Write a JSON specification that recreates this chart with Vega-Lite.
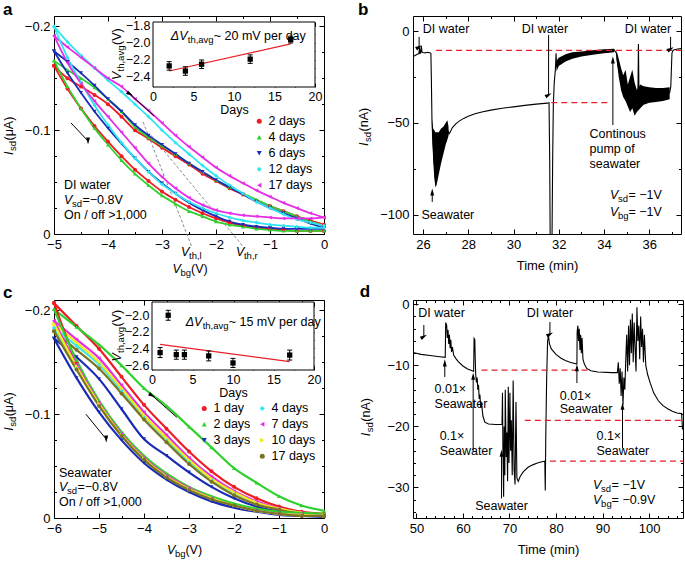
{
"$schema":"https://vega.github.io/schema/vega-lite/v6.json",
"padding":{"left":2,"top":0,"right":0,"bottom":0},
"background":"white",
"config":{
 "font":"Liberation Sans",
 "view":{"stroke":"black","strokeWidth":1},
 "axis":{"grid":false,"domain":false,"tickColor":"black","tickWidth":1,"labelColor":"black","labelFontSize":13,"labelFlush":false,"labelOverlap":false,"titleFontSize":13,"titleFontWeight":"normal","titleColor":"black"},
 "legend":{"labelFontSize":12.5,"labelColor":"black","symbolSize":25,"rowPadding":3,"padding":0,"labelOffset":3,"symbolStrokeWidth":0},
 "title":{"fontSize":17,"fontWeight":"bold","anchor":"start","color":"black","offset":-3},
 "text":{"color":"black","fontSize":12.5}
},
"datasets":{
 "aLoops":[
{"x":-5,"d":"u","2 days":-0.162,"4 days":-0.167,"6 days":-0.176,"12 days":-0.2,"17 days":-0.191},
{"x":-4.75,"d":"u","2 days":-0.15,"4 days":-0.158,"6 days":-0.166,"12 days":-0.185,"17 days":-0.18},
{"x":-4.5,"d":"u","2 days":-0.142,"4 days":-0.15,"6 days":-0.155,"12 days":-0.172,"17 days":-0.17},
{"x":-4.25,"d":"u","2 days":-0.134,"4 days":-0.141,"6 days":-0.143,"12 days":-0.16,"17 days":-0.16},
{"x":-4,"d":"u","2 days":-0.125,"4 days":-0.13,"6 days":-0.13,"12 days":-0.148,"17 days":-0.15},
{"x":-3.75,"d":"u","2 days":-0.113,"4 days":-0.118,"6 days":-0.118,"12 days":-0.137,"17 days":-0.142},
{"x":-3.5,"d":"u","2 days":-0.1,"4 days":-0.103,"6 days":-0.105,"12 days":-0.125,"17 days":-0.13},
{"x":-3.25,"d":"u","2 days":-0.092,"4 days":-0.093,"6 days":-0.095,"12 days":-0.113,"17 days":-0.119},
{"x":-3,"d":"u","2 days":-0.083,"4 days":-0.085,"6 days":-0.086,"12 days":-0.1,"17 days":-0.107},
{"x":-2.75,"d":"u","2 days":-0.075,"4 days":-0.077,"6 days":-0.077,"12 days":-0.088,"17 days":-0.095},
{"x":-2.5,"d":"u","2 days":-0.067,"4 days":-0.068,"6 days":-0.068,"12 days":-0.077,"17 days":-0.084},
{"x":-2.25,"d":"u","2 days":-0.058,"4 days":-0.06,"6 days":-0.06,"12 days":-0.066,"17 days":-0.074},
{"x":-2,"d":"u","2 days":-0.051,"4 days":-0.052,"6 days":-0.052,"12 days":-0.056,"17 days":-0.064},
{"x":-1.75,"d":"u","2 days":-0.044,"4 days":-0.045,"6 days":-0.045,"12 days":-0.047,"17 days":-0.056},
{"x":-1.5,"d":"u","2 days":-0.038,"4 days":-0.039,"6 days":-0.038,"12 days":-0.039,"17 days":-0.049},
{"x":-1.25,"d":"u","2 days":-0.032,"4 days":-0.033,"6 days":-0.031,"12 days":-0.031,"17 days":-0.042},
{"x":-1,"d":"u","2 days":-0.027,"4 days":-0.027,"6 days":-0.025,"12 days":-0.025,"17 days":-0.036},
{"x":-0.75,"d":"u","2 days":-0.022,"4 days":-0.022,"6 days":-0.02,"12 days":-0.019,"17 days":-0.03},
{"x":-0.5,"d":"u","2 days":-0.017,"4 days":-0.017,"6 days":-0.015,"12 days":-0.014,"17 days":-0.025},
{"x":-0.25,"d":"u","2 days":-0.013,"4 days":-0.012,"6 days":-0.01,"12 days":-0.011,"17 days":-0.02},
{"x":0,"d":"u","2 days":-0.009,"4 days":-0.008,"6 days":-0.006,"12 days":-0.008,"17 days":-0.016},
{"x":-5,"d":"l","2 days":-0.162,"4 days":-0.167,"6 days":-0.176,"12 days":-0.2,"17 days":-0.191},
{"x":-4.75,"d":"l","2 days":-0.14,"4 days":-0.142,"6 days":-0.155,"12 days":-0.17,"17 days":-0.165},
{"x":-4.5,"d":"l","2 days":-0.121,"4 days":-0.121,"6 days":-0.136,"12 days":-0.146,"17 days":-0.145},
{"x":-4.25,"d":"l","2 days":-0.104,"4 days":-0.102,"6 days":-0.118,"12 days":-0.124,"17 days":-0.128},
{"x":-4,"d":"l","2 days":-0.089,"4 days":-0.086,"6 days":-0.102,"12 days":-0.105,"17 days":-0.113},
{"x":-3.75,"d":"l","2 days":-0.075,"4 days":-0.071,"6 days":-0.087,"12 days":-0.088,"17 days":-0.098},
{"x":-3.5,"d":"l","2 days":-0.062,"4 days":-0.058,"6 days":-0.073,"12 days":-0.073,"17 days":-0.083},
{"x":-3.25,"d":"l","2 days":-0.051,"4 days":-0.047,"6 days":-0.06,"12 days":-0.06,"17 days":-0.068},
{"x":-3,"d":"l","2 days":-0.041,"4 days":-0.037,"6 days":-0.049,"12 days":-0.048,"17 days":-0.055},
{"x":-2.75,"d":"l","2 days":-0.033,"4 days":-0.029,"6 days":-0.039,"12 days":-0.039,"17 days":-0.044},
{"x":-2.5,"d":"l","2 days":-0.026,"4 days":-0.022,"6 days":-0.03,"12 days":-0.031,"17 days":-0.035},
{"x":-2.25,"d":"l","2 days":-0.02,"4 days":-0.017,"6 days":-0.023,"12 days":-0.025,"17 days":-0.028},
{"x":-2,"d":"l","2 days":-0.015,"4 days":-0.012,"6 days":-0.017,"12 days":-0.02,"17 days":-0.023},
{"x":-1.75,"d":"l","2 days":-0.011,"4 days":-0.009,"6 days":-0.012,"12 days":-0.016,"17 days":-0.02},
{"x":-1.5,"d":"l","2 days":-0.008,"4 days":-0.007,"6 days":-0.009,"12 days":-0.013,"17 days":-0.018},
{"x":-1.25,"d":"l","2 days":-0.006,"4 days":-0.005,"6 days":-0.007,"12 days":-0.011,"17 days":-0.017},
{"x":-1,"d":"l","2 days":-0.005,"4 days":-0.004,"6 days":-0.006,"12 days":-0.009,"17 days":-0.016},
{"x":-0.75,"d":"l","2 days":-0.004,"4 days":-0.003,"6 days":-0.005,"12 days":-0.008,"17 days":-0.015},
{"x":-0.5,"d":"l","2 days":-0.003,"4 days":-0.003,"6 days":-0.005,"12 days":-0.007,"17 days":-0.015},
{"x":-0.25,"d":"l","2 days":-0.003,"4 days":-0.003,"6 days":-0.005,"12 days":-0.006,"17 days":-0.015},
{"x":0,"d":"l","2 days":-0.003,"4 days":-0.003,"6 days":-0.005,"12 days":-0.006,"17 days":-0.016}
 ],
 "cLoops":[
{"x":-6,"d":"u","1 day":-0.207,"2 days":-0.201,"3 days":-0.173,"4 days":-0.183,"7 days":-0.19,"10 days":-0.187,"17 days":-0.18},
{"x":-5.5,"d":"u","1 day":-0.185,"2 days":-0.184,"3 days":-0.155,"4 days":-0.166,"7 days":-0.172,"10 days":-0.169,"17 days":-0.162},
{"x":-5,"d":"u","1 day":-0.163,"2 days":-0.167,"3 days":-0.134,"4 days":-0.148,"7 days":-0.154,"10 days":-0.15,"17 days":-0.144},
{"x":-4.5,"d":"u","1 day":-0.136,"2 days":-0.147,"3 days":-0.105,"4 days":-0.123,"7 days":-0.128,"10 days":-0.125,"17 days":-0.12},
{"x":-4,"d":"u","1 day":-0.109,"2 days":-0.125,"3 days":-0.076,"4 days":-0.098,"7 days":-0.102,"10 days":-0.099,"17 days":-0.095},
{"x":-3.5,"d":"u","1 day":-0.086,"2 days":-0.108,"3 days":-0.06,"4 days":-0.076,"7 days":-0.08,"10 days":-0.077,"17 days":-0.073},
{"x":-3,"d":"u","1 day":-0.064,"2 days":-0.088,"3 days":-0.044,"4 days":-0.054,"7 days":-0.058,"10 days":-0.056,"17 days":-0.052},
{"x":-2.5,"d":"u","1 day":-0.045,"2 days":-0.068,"3 days":-0.03,"4 days":-0.037,"7 days":-0.04,"10 days":-0.038,"17 days":-0.035},
{"x":-2,"d":"u","1 day":-0.03,"2 days":-0.048,"3 days":-0.019,"4 days":-0.024,"7 days":-0.026,"10 days":-0.025,"17 days":-0.022},
{"x":-1.5,"d":"u","1 day":-0.019,"2 days":-0.034,"3 days":-0.011,"4 days":-0.015,"7 days":-0.016,"10 days":-0.015,"17 days":-0.013},
{"x":-1,"d":"u","1 day":-0.011,"2 days":-0.021,"3 days":-0.006,"4 days":-0.009,"7 days":-0.009,"10 days":-0.009,"17 days":-0.008},
{"x":-0.5,"d":"u","1 day":-0.006,"2 days":-0.012,"3 days":-0.003,"4 days":-0.005,"7 days":-0.005,"10 days":-0.005,"17 days":-0.004},
{"x":0,"d":"u","1 day":-0.004,"2 days":-0.007,"3 days":-0.002,"4 days":-0.003,"7 days":-0.003,"10 days":-0.003,"17 days":-0.002},
{"x":-6,"d":"l","1 day":-0.207,"2 days":-0.201,"3 days":-0.173,"4 days":-0.183,"7 days":-0.19,"10 days":-0.187,"17 days":-0.18},
{"x":-5.5,"d":"l","1 day":-0.15,"2 days":-0.152,"3 days":-0.135,"4 days":-0.145,"7 days":-0.148,"10 days":-0.146,"17 days":-0.143},
{"x":-5,"d":"l","1 day":-0.11,"2 days":-0.113,"3 days":-0.102,"4 days":-0.109,"7 days":-0.111,"10 days":-0.11,"17 days":-0.108},
{"x":-4.5,"d":"l","1 day":-0.08,"2 days":-0.083,"3 days":-0.075,"4 days":-0.08,"7 days":-0.081,"10 days":-0.08,"17 days":-0.079},
{"x":-4,"d":"l","1 day":-0.057,"2 days":-0.06,"3 days":-0.053,"4 days":-0.057,"7 days":-0.058,"10 days":-0.057,"17 days":-0.056},
{"x":-3.5,"d":"l","1 day":-0.04,"2 days":-0.043,"3 days":-0.037,"4 days":-0.04,"7 days":-0.041,"10 days":-0.04,"17 days":-0.039},
{"x":-3,"d":"l","1 day":-0.028,"2 days":-0.03,"3 days":-0.025,"4 days":-0.028,"7 days":-0.029,"10 days":-0.028,"17 days":-0.027},
{"x":-2.5,"d":"l","1 day":-0.019,"2 days":-0.021,"3 days":-0.016,"4 days":-0.019,"7 days":-0.019,"10 days":-0.019,"17 days":-0.018},
{"x":-2,"d":"l","1 day":-0.012,"2 days":-0.014,"3 days":-0.01,"4 days":-0.012,"7 days":-0.012,"10 days":-0.012,"17 days":-0.012},
{"x":-1.5,"d":"l","1 day":-0.007,"2 days":-0.009,"3 days":-0.006,"4 days":-0.007,"7 days":-0.007,"10 days":-0.007,"17 days":-0.007},
{"x":-1,"d":"l","1 day":-0.004,"2 days":-0.006,"3 days":-0.003,"4 days":-0.004,"7 days":-0.004,"10 days":-0.004,"17 days":-0.004},
{"x":-0.5,"d":"l","1 day":-0.003,"2 days":-0.005,"3 days":-0.002,"4 days":-0.003,"7 days":-0.003,"10 days":-0.003,"17 days":-0.002},
{"x":0,"d":"l","1 day":-0.002,"2 days":-0.004,"3 days":-0.001,"4 days":-0.002,"7 days":-0.002,"10 days":-0.002,"17 days":-0.002}
 ],
 "aTan":[{"g":1,"x":-3.35,"y":-0.108},{"g":1,"x":-2.45,"y":0.012},{"g":2,"x":-3.2,"y":-0.095},{"g":2,"x":-1.5,"y":0.012}],
 "aIns":[{"day":2,"v":-2.27,"lo":-2.32,"hi":-2.22},{"day":4,"v":-2.33,"lo":-2.38,"hi":-2.28},{"day":6,"v":-2.25,"lo":-2.3,"hi":-2.2},{"day":12,"v":-2.19,"lo":-2.24,"hi":-2.14},{"day":17,"v":-1.96,"lo":-2.0,"hi":-1.92}],
 "aFit":[{"day":2,"v":-2.33},{"day":17,"v":-2.01}],
 "cIns":[{"day":1,"v":-2.45,"lo":-2.51,"hi":-2.39},{"day":2,"v":-2.0,"lo":-2.06,"hi":-1.94},{"day":3,"v":-2.475,"lo":-2.53,"hi":-2.42},{"day":4,"v":-2.475,"lo":-2.53,"hi":-2.42},{"day":7,"v":-2.49,"lo":-2.55,"hi":-2.43},{"day":10,"v":-2.575,"lo":-2.63,"hi":-2.52},{"day":17,"v":-2.48,"lo":-2.54,"hi":-2.42}],
 "cFit":[{"day":1,"v":-2.35},{"day":17,"v":-2.56}],
 "bBand":[
{"g":1,"t":26.4,"lo":-56,"hi":-48},{"g":1,"t":26.45,"lo":-70,"hi":-53},{"g":1,"t":26.5,"lo":-80,"hi":-54},{"g":1,"t":26.55,"lo":-85,"hi":-55},{"g":1,"t":26.6,"lo":-84,"hi":-55},{"g":1,"t":26.7,"lo":-78,"hi":-55},{"g":1,"t":26.8,"lo":-72,"hi":-53},{"g":1,"t":26.9,"lo":-67,"hi":-52},{"g":1,"t":27.0,"lo":-62,"hi":-50},{"g":1,"t":27.08,"lo":-59,"hi":-48.5},{"g":1,"t":27.13,"lo":-57,"hi":-52},
{"g":2,"t":31.9,"lo":-22,"hi":-16},{"g":2,"t":32.0,"lo":-19,"hi":-14.5},{"g":2,"t":32.3,"lo":-16.5,"hi":-12.5},{"g":2,"t":32.6,"lo":-15,"hi":-11.5},{"g":2,"t":33.0,"lo":-13.8,"hi":-11},{"g":2,"t":33.5,"lo":-12.8,"hi":-10.3},{"g":2,"t":34.0,"lo":-12,"hi":-9.8},{"g":2,"t":34.45,"lo":-11.5,"hi":-9.5},
{"g":3,"t":34.55,"lo":-15,"hi":-10.5},{"g":3,"t":34.65,"lo":-25,"hi":-15},{"g":3,"t":34.75,"lo":-32,"hi":-20},{"g":3,"t":34.85,"lo":-36,"hi":-24},{"g":3,"t":34.95,"lo":-38,"hi":-21},{"g":3,"t":35.05,"lo":-41,"hi":-29},{"g":3,"t":35.15,"lo":-44,"hi":-25},{"g":3,"t":35.25,"lo":-42,"hi":-21},{"g":3,"t":35.35,"lo":-46,"hi":-28},{"g":3,"t":35.45,"lo":-44,"hi":-32},{"g":3,"t":35.6,"lo":-42,"hi":-29},{"g":3,"t":35.75,"lo":-40,"hi":-30},{"g":3,"t":36.0,"lo":-39,"hi":-30.5},{"g":3,"t":36.3,"lo":-38.5,"hi":-31},{"g":3,"t":36.6,"lo":-38,"hi":-31},{"g":3,"t":36.9,"lo":-37,"hi":-30.5}
 ],
 "bLine":[
{"t":25.56,"v":-13.8},{"t":25.65,"v":-13.2},{"t":25.75,"v":-12.5},{"t":25.82,"v":-12.2},{"t":25.85,"v":-9},{"t":25.87,"v":-12},{"t":25.9,"v":-11.8},{"t":25.93,"v":-8.2},{"t":25.96,"v":-11.5},{"t":26.0,"v":-11.6},{"t":26.1,"v":-11.8},{"t":26.2,"v":-11.5},{"t":26.3,"v":-11.7},{"t":26.35,"v":-12},{"t":26.37,"v":-25},{"t":26.4,"v":-50},{"t":26.45,"v":-62},{"t":26.5,"v":-72},{"t":26.55,"v":-80},{"t":26.6,"v":-76},{"t":26.7,"v":-68},{"t":26.8,"v":-63},{"t":26.9,"v":-60},{"t":27.0,"v":-57},{"t":27.1,"v":-54},{"t":27.15,"v":-56},{"t":27.2,"v":-55},{"t":27.3,"v":-52.5},{"t":27.45,"v":-50.5},{"t":27.6,"v":-49},{"t":27.8,"v":-47.5},{"t":28.0,"v":-46.3},{"t":28.3,"v":-45},{"t":28.6,"v":-44},{"t":29.0,"v":-43},{"t":29.5,"v":-42},{"t":30.0,"v":-41.2},{"t":30.5,"v":-40.4},{"t":31.0,"v":-39.7},{"t":31.5,"v":-39.2},{"t":31.57,"v":-39},{"t":31.6,"v":-70},{"t":31.62,"v":-115},{"t":31.7,"v":-115},{"t":31.73,"v":-70},{"t":31.76,"v":-40},{"t":31.8,"v":-28},{"t":31.85,"v":-21},{"t":31.88,"v":-12},{"t":31.9,"v":-19},{"t":32.0,"v":-17},{"t":32.2,"v":-15},{"t":32.5,"v":-13.5},{"t":33.0,"v":-12.3},{"t":33.5,"v":-11.5},{"t":34.0,"v":-10.8},{"t":34.45,"v":-10.3},{"t":34.55,"v":-12},{"t":34.6,"v":-18},{"t":34.7,"v":-24},{"t":34.8,"v":-30},{"t":34.9,"v":-28},{"t":35.0,"v":-33},{"t":35.1,"v":-36},{"t":35.2,"v":-40},{"t":35.3,"v":-38},{"t":35.4,"v":-43},{"t":35.47,"v":-38},{"t":35.5,"v":-30},{"t":35.52,"v":-7},{"t":35.54,"v":-30},{"t":35.6,"v":-38},{"t":35.8,"v":-35},{"t":36.0,"v":-34.5},{"t":36.5,"v":-34},{"t":36.9,"v":-33.5},{"t":36.95,"v":-30},{"t":37.0,"v":-12},{"t":37.05,"v":-10.3},{"t":37.2,"v":-9.8},{"t":37.4,"v":-9.5}
 ],
 "dLine":[
{"t":49.27,"v":-7.9},{"t":51,"v":-8.2},{"t":53,"v":-8.4},{"t":55,"v":-8.6},{"t":56.2,"v":-8.7},{"t":56.3,"v":-3.0},{"t":56.5,"v":-3.4},{"t":56.65,"v":-5.5},{"t":56.8,"v":-4.2},{"t":56.95,"v":-6.5},{"t":57.1,"v":-5.0},{"t":57.25,"v":-7.2},{"t":57.4,"v":-5.8},{"t":57.55,"v":-7.8},{"t":57.75,"v":-7.0},{"t":58.0,"v":-8.3},{"t":58.5,"v":-8.9},{"t":59.0,"v":-9.4},{"t":60.0,"v":-10.1},{"t":61.0,"v":-10.6},{"t":62.0,"v":-10.9},{"t":62.3,"v":-11.0},{"t":62.4,"v":-5.6},{"t":62.55,"v":-5.8},{"t":62.65,"v":-9},{"t":62.75,"v":-11.5},{"t":62.9,"v":-12.8},{"t":63.05,"v":-12},{"t":63.2,"v":-14},{"t":63.35,"v":-13.2},{"t":63.5,"v":-15.5},{"t":63.65,"v":-14.8},{"t":63.8,"v":-16.8},{"t":64.0,"v":-16.2},{"t":64.3,"v":-18.3},{"t":64.7,"v":-19.3},{"t":65.5,"v":-19.6},{"t":67.0,"v":-19.7},{"t":68.4,"v":-19.7},{"t":68.5,"v":-14.5},{"t":68.6,"v":-24},{"t":68.75,"v":-31.5},{"t":68.85,"v":-20},{"t":69.0,"v":-28},{"t":69.1,"v":-14},{"t":69.3,"v":-25},{"t":69.45,"v":-21},{"t":69.6,"v":-29},{"t":69.75,"v":-13.5},{"t":69.9,"v":-26},{"t":70.1,"v":-14.5},{"t":70.25,"v":-24},{"t":70.4,"v":-19},{"t":70.6,"v":-28},{"t":70.8,"v":-12.5},{"t":71.0,"v":-27},{"t":71.2,"v":-29.5},{"t":71.4,"v":-16},{"t":71.6,"v":-28.5},{"t":71.9,"v":-29},{"t":72.3,"v":-28.2},{"t":73.0,"v":-27.4},{"t":74.0,"v":-26.7},{"t":75.0,"v":-26.3},{"t":76.0,"v":-26.0},{"t":77.0,"v":-25.8},{"t":77.6,"v":-25.7},{"t":77.7,"v":-30.5},{"t":77.8,"v":-22},{"t":78.0,"v":-12},{"t":78.2,"v":-6},{"t":78.4,"v":-5.2},{"t":78.6,"v":-6.5},{"t":79.0,"v":-7.3},{"t":80.0,"v":-8.2},{"t":81.0,"v":-8.8},{"t":82.0,"v":-9.2},{"t":83.0,"v":-9.5},{"t":84.0,"v":-9.7},{"t":84.5,"v":-9.8},{"t":84.55,"v":-4.5},{"t":84.7,"v":-3.5},{"t":84.85,"v":-6},{"t":85.0,"v":-4},{"t":85.15,"v":-7.5},{"t":85.3,"v":-5},{"t":85.45,"v":-8},{"t":85.6,"v":-5.5},{"t":85.8,"v":-9},{"t":86.1,"v":-9.8},{"t":86.6,"v":-10.5},{"t":87.5,"v":-10.9},{"t":89,"v":-11.1},{"t":92,"v":-11.2},{"t":93.2,"v":-11.2},{"t":93.4,"v":-9.5},{"t":93.6,"v":-13},{"t":93.8,"v":-10.5},{"t":94.0,"v":-15},{"t":94.2,"v":-11},{"t":94.4,"v":-16.5},{"t":94.6,"v":-12},{"t":94.8,"v":-14},{"t":95.0,"v":-9},{"t":95.2,"v":-5},{"t":95.4,"v":-11},{"t":95.6,"v":-3.5},{"t":95.8,"v":-10},{"t":96.0,"v":-2.5},{"t":96.2,"v":-8},{"t":96.4,"v":-1.5},{"t":96.6,"v":-9.5},{"t":96.8,"v":-3},{"t":97.0,"v":-7},{"t":97.2,"v":-11},{"t":97.4,"v":-0.5},{"t":97.6,"v":-6},{"t":97.8,"v":-3.5},{"t":98.0,"v":-9},{"t":98.2,"v":-2},{"t":98.4,"v":-7},{"t":98.6,"v":-4},{"t":98.8,"v":-9.5},{"t":99.0,"v":-5},{"t":99.3,"v":-10},{"t":99.7,"v":-11.5},{"t":100.3,"v":-13},{"t":101,"v":-14.5},{"t":102,"v":-15.8},{"t":103,"v":-16.6},{"t":104,"v":-17.1},{"t":105,"v":-17.5},{"t":106,"v":-17.8},{"t":107,"v":-17.9},{"t":107.2,"v":-20.5}
 ],
 "red":[{"p":"b","x":26.58,"x2":37.4,"y":-10.4},{"p":"b","x":31.67,"x2":34.32,"y":-38.9},{"p":"d","x":64,"x2":87.3,"y":-10.8},{"p":"d","x":73.3,"x2":107.3,"y":-19.0},{"p":"d","x":78.7,"x2":107.3,"y":-25.7}],
 "arr":[
{"p":"a","x":-3.148,"y":-0.1137,"x2":-3.593,"y2":-0.1349,"dir":"ul"},
{"p":"a","x":-4.685,"y":-0.107,"x2":-4.37,"y2":-0.0896,"dir":"dr"},
{"p":"c","x":-3.27,"y":-0.097,"x2":-3.82,"y2":-0.118,"dir":"ul"},
{"p":"c","x":-5.29,"y":-0.1,"x2":-4.84,"y2":-0.076,"dir":"dr"},
{"p":"b","x":25.83,"y":-3.1,"x2":25.83,"y2":-8.6,"dir":"d"},
{"p":"b","x":31.55,"y":-2,"x2":31.55,"y2":-34.7,"dir":"d"},
{"p":"b","x":36.94,"y":-3.1,"x2":36.94,"y2":-9.7,"dir":"d"},
{"p":"b","x":26.41,"y":-93,"x2":26.41,"y2":-87.6,"dir":"u"},
{"p":"b","x":34.39,"y":-51.1,"x2":34.39,"y2":-15.6,"dir":"u"},
{"p":"d","x":51.6,"y":-3.4,"x2":51.6,"y2":-5.3,"dir":"d"},
{"p":"d","x":56.1,"y":-11.9,"x2":56.1,"y2":-9.6,"dir":"u"},
{"p":"d","x":62.2,"y":-24.1,"x2":62.2,"y2":-11.8,"dir":"u"},
{"p":"d","x":68.3,"y":-31.8,"x2":68.3,"y2":-24.4,"dir":"u"},
{"p":"d","x":78.7,"y":-2.9,"x2":78.7,"y2":-4.9,"dir":"d"},
{"p":"d","x":84.5,"y":-12.9,"x2":84.5,"y2":-10.4,"dir":"u"},
{"p":"d","x":94.3,"y":-23.6,"x2":94.3,"y2":-16.7,"dir":"u"}
 ],
 "tl":[
{"p":"a","x":-4.815,"y":-0.047,"t":"DI water"},
{"p":"a","x":-4.815,"y":-0.0183,"t":"On / off >1,000"},
{"p":"c","x":-5.889,"y":-0.0437,"t":"Seawater"},
{"p":"c","x":-5.889,"y":-0.0155,"t":"On / off >1,000"},
{"p":"b","x":33.36,"y":-55.8,"t":"Continous"},
{"p":"b","x":33.36,"y":-64,"t":"pump of"},
{"p":"b","x":33.36,"y":-72.2,"t":"seawater"},
{"p":"d","x":53.9,"y":-13.9,"t":"0.01×"},
{"p":"d","x":53.9,"y":-16.4,"t":"Seawater"},
{"p":"d","x":55.0,"y":-21.6,"t":"0.1×"},
{"p":"d","x":55.0,"y":-24.1,"t":"Seawater"},
{"p":"d","x":80.8,"y":-15.0,"t":"0.01×"},
{"p":"d","x":80.8,"y":-17.2,"t":"Seawater"},
{"p":"d","x":88.7,"y":-21.6,"t":"0.1×"},
{"p":"d","x":88.7,"y":-24.1,"t":"Seawater"}
 ],
 "tc":[
{"p":"b","x":27.02,"y":1.25,"t":"DI water"},{"p":"b","x":31.39,"y":1.25,"t":"DI water"},{"p":"b","x":35.94,"y":1.25,"t":"DI water"},{"p":"b","x":27.1,"y":-100.2,"t":"Seawater"},
{"p":"d","x":55.4,"y":-1.5,"t":"DI water"},{"p":"d","x":78.7,"y":-1.5,"t":"DI water"},{"p":"d","x":68.3,"y":-33.1,"t":"Seawater"}
 ],
 "vh":[
{"p":"a","x":-2.806,"y":0.0337,"a":"V","b":"bg","c":"\u00a0(V)"},
{"p":"a","x":-4.815,"y":-0.0328,"a":"V","b":"sd","c":"=−0.8V"},
{"p":"a","x":-2.648,"y":0.0173,"a":"V","b":"th,l","c":""},
{"p":"a","x":-1.63,"y":0.0173,"a":"V","b":"th,r","c":""},
{"p":"c","x":-3.49,"y":0.031,"a":"V","b":"bg","c":"\u00a0(V)"},
{"p":"c","x":-5.889,"y":-0.03,"a":"V","b":"sd","c":"=−0.8V"},
{"p":"b","x":34.26,"y":-89.3,"a":"V","b":"sd","c":"= −1V"},
{"p":"b","x":34.26,"y":-98.5,"a":"V","b":"bg","c":"= −1V"},
{"p":"d","x":87.98,"y":-29.6,"a":"V","b":"sd","c":"= −1V"},
{"p":"d","x":87.98,"y":-32.0,"a":"V","b":"bg","c":"= −0.9V"}
 ],
 "ir":[
{"p":"a","x":-5.833,"y":-0.0761,"a":"I","b":"sd","c":"\u00a0(μA)"},
{"p":"c","x":-7,"y":-0.084,"a":"I","b":"sd","c":"\u00a0(μA)"},
{"p":"b","x":23.4,"y":-62.5,"a":"I","b":"sd","c":"\u00a0(nA)"},
{"p":"d","x":39.1,"y":-21.6,"a":"I","b":"sd","c":"\u00a0(nA)"}
 ],
 "dv":[
{"p":"a","x":2.19,"y":-1.918,"a":"ΔV","b":"th,avg","c":"~ 20 mV per day"},
{"p":"c","x":4.16,"y":-2.084,"a":"ΔV","b":"th,avg","c":"~ 15 mV per day"}
 ],
 "vr":[
{"p":"a","x":-4.44,"y":-2.435,"a":"V","b":"th,avg","c":"\u00a0(V)"},
{"p":"c","x":-4.32,"y":-2.557,"a":"V","b":"th,avg","c":"\u00a0(V)"}
 ]
},
"spacing":4,
"resolve":{"scale":{"color":"independent","shape":"independent","angle":"independent"}},
"vconcat":[
{"spacing":28,"resolve":{"scale":{"color":"independent","shape":"independent","angle":"independent"}},"hconcat":[
{
 "width":270,"height":218,"title":{"text":"a"},
 "resolve":{"scale":{"x":"independent","y":"independent"}},
 "layer":[
 {
  "resolve":{"axis":{"x":"independent","y":"independent"},"legend":{"color":"independent","shape":"independent"}},
  "layer":[
   {"data":{"name":"aTan"},"mark":{"type":"line","color":"#8c8c8c","strokeWidth":1,"strokeDash":[3,2]},
    "encoding":{"x":{"field":"x","type":"quantitative","scale":{"domain":[-5,0],"nice":false,"zero":false},"axis":null},"y":{"field":"y","type":"quantitative","scale":{"domain":[-0.21,0],"reverse":true,"nice":false,"zero":false},"axis":null},"detail":{"field":"g"}}},
   {"data":{"name":"aLoops"},"transform":[{"fold":["2 days","4 days","6 days","12 days","17 days"],"as":["s","v"]}],
    "mark":{"type":"line","strokeWidth":1.8,"interpolate":"monotone"},
    "encoding":{
     "x":{"field":"x","type":"quantitative","axis":{"orient":"bottom","values":[-5,-4,-3,-2,-1,0],"format":"d","tickSize":-5,"labelPadding":9,"title":null}},
     "y":{"field":"v","type":"quantitative","axis":{"orient":"left","values":[-0.2,-0.1,0],"format":".1~f","tickSize":-5,"labelPadding":9,"title":null}},
     "color":{"field":"s","type":"nominal","scale":{"domain":["2 days","4 days","6 days","12 days","17 days"],"range":["#ee1c24","#2fd12f","#1a2bb5","#2fe6f2","#e62ee6"]},"legend":null},
     "detail":{"field":"d"}}},
   {"data":{"name":"aLoops"},"transform":[{"fold":["2 days","4 days","6 days","12 days","17 days"],"as":["s","v"]}],
    "mark":{"type":"point","filled":true,"size":16,"opacity":1},
    "encoding":{
     "x":{"field":"x","type":"quantitative","axis":{"orient":"top","values":[-5,-4,-3,-2,-1,0],"tickSize":-5,"labels":false,"title":null}},
     "y":{"field":"v","type":"quantitative","axis":{"orient":"right","values":[-0.2,-0.1,0],"tickSize":-5,"labels":false,"title":null}},
     "color":{"field":"s","type":"nominal","legend":{"orient":"none","legendX":199,"legendY":99,"title":null}},
     "shape":{"field":"s","type":"nominal","scale":{"domain":["2 days","4 days","6 days","12 days","17 days"],"range":["circle","triangle-up","triangle-down","diamond","triangle-left"]},"legend":{"orient":"none","legendX":199,"legendY":99,"title":null}}}},
   {"data":{"name":"arr"},"transform":[{"filter":"datum.p==='a'"}],"mark":{"type":"rule","color":"black","strokeWidth":1},
    "encoding":{"x":{"field":"x","type":"quantitative","axis":{"orient":"bottom","values":[-4.5,-3.5,-2.5,-1.5,-0.5],"tickSize":-2.5,"labels":false,"title":null}},"y":{"field":"y","type":"quantitative","axis":{"orient":"left","values":[-0.175,-0.15,-0.125,-0.075,-0.05,-0.025],"tickSize":-2.5,"labels":false,"title":null}},"x2":{"field":"x2"},"y2":{"field":"y2"}}},
   {"data":{"name":"arr"},"transform":[{"filter":"datum.p==='a'"}],"mark":{"type":"point","shape":"M0,-1L0.55,1L-0.55,1Z","filled":true,"color":"black","size":50,"opacity":1},
    "encoding":{"x":{"field":"x2","type":"quantitative","axis":{"orient":"top","values":[-4.5,-3.5,-2.5,-1.5,-0.5],"tickSize":-2.5,"labels":false,"title":null}},"y":{"field":"y2","type":"quantitative","axis":{"orient":"right","values":[-0.175,-0.15,-0.125,-0.075,-0.05,-0.025],"tickSize":-2.5,"labels":false,"title":null}},"angle":{"field":"dir","type":"nominal","scale":{"domain":["u","d","ul","dr"],"range":[0,180,312,138]},"legend":null}}},
   {"data":{"name":"tl"},"transform":[{"filter":"datum.p==='a'"}],"mark":{"type":"text","align":"left","baseline":"middle","fontSize":12.5},
    "encoding":{"x":{"field":"x","type":"quantitative","axis":null},"y":{"field":"y","type":"quantitative","axis":null},"text":{"field":"t"}}},
   {"data":{"name":"vh"},"transform":[{"filter":"datum.p==='a'"}],"mark":{"type":"text","align":"left","baseline":"middle","fontSize":12.5,"fontStyle":"italic"},
    "encoding":{"x":{"field":"x","type":"quantitative","axis":null},"y":{"field":"y","type":"quantitative","axis":null},"text":{"field":"a"}}},
   {"data":{"name":"vh"},"transform":[{"filter":"datum.p==='a'"}],"mark":{"type":"text","align":"left","baseline":"middle","fontSize":9.5,"dx":8,"dy":4},
    "encoding":{"x":{"field":"x","type":"quantitative","axis":null},"y":{"field":"y","type":"quantitative","axis":null},"text":{"field":"b"}}},
   {"data":{"name":"vh"},"transform":[{"filter":"datum.p==='a'"}],"mark":{"type":"text","align":"left","baseline":"middle","fontSize":12.5,"dx":18.5},
    "encoding":{"x":{"field":"x","type":"quantitative","axis":null},"y":{"field":"y","type":"quantitative","axis":null},"text":{"field":"c"}}},
   {"data":{"name":"ir"},"transform":[{"filter":"datum.p==='a'"}],"mark":{"type":"text","align":"left","baseline":"middle","fontSize":12.5,"fontStyle":"italic","angle":270},
    "encoding":{"x":{"field":"x","type":"quantitative","axis":null},"y":{"field":"y","type":"quantitative","axis":null},"text":{"field":"a"}}},
   {"data":{"name":"ir"},"transform":[{"filter":"datum.p==='a'"}],"mark":{"type":"text","align":"left","baseline":"middle","fontSize":9.5,"dx":4,"dy":4,"angle":270},
    "encoding":{"x":{"field":"x","type":"quantitative","axis":null},"y":{"field":"y","type":"quantitative","axis":null},"text":{"field":"b"}}},
   {"data":{"name":"ir"},"transform":[{"filter":"datum.p==='a'"}],"mark":{"type":"text","align":"left","baseline":"middle","fontSize":12.5,"dx":14.5,"angle":270},
    "encoding":{"x":{"field":"x","type":"quantitative","axis":null},"y":{"field":"y","type":"quantitative","axis":null},"text":{"field":"c"}}}
  ]
 },
 {
  "resolve":{"axis":{"x":"independent","y":"independent"}},
  "layer":[
   {"data":{"values":[{}]},"mark":{"type":"rect","fill":"white","stroke":"black","strokeWidth":1},
    "encoding":{"x":{"datum":0,"type":"quantitative","scale":{"domain":[0,20],"range":[99,261],"nice":false,"zero":false},"axis":null},"x2":{"datum":20},"y":{"datum":-2.518,"type":"quantitative","scale":{"domain":[-2.518,-1.753],"range":[71,6],"nice":false,"zero":false},"axis":null},"y2":{"datum":-1.753}}},
   {"data":{"name":"aFit"},"mark":{"type":"line","color":"#e8202a","strokeWidth":1.2},
    "encoding":{"x":{"field":"day","type":"quantitative","axis":null},"y":{"field":"v","type":"quantitative","axis":null}}},
   {"data":{"name":"aIns"},"mark":{"type":"rule","color":"black","strokeWidth":1},
    "encoding":{"x":{"field":"day","type":"quantitative","axis":{"orient":"bottom","offset":-147,"values":[0,5,10,15,20],"tickSize":-4,"labelPadding":7,"labelFontSize":12.5,"title":"Days","titlePadding":1,"titleFontSize":12.5}},
     "y":{"field":"lo","type":"quantitative","axis":{"orient":"left","offset":-99,"values":[-1.8,-2,-2.2,-2.4],"format":".1f","tickSize":-4,"labelPadding":7,"labelFontSize":12.5,"title":null}},"y2":{"field":"hi"}}},
   {"data":{"name":"aIns"},"mark":{"type":"point","shape":"M-1,0H1","filled":false,"color":"black","strokeWidth":1,"size":25,"opacity":1},
    "encoding":{"x":{"field":"day","type":"quantitative","axis":{"orient":"top","offset":-6,"values":[0,5,10,15,20],"tickSize":-4,"labels":false,"title":null}},
     "y":{"field":"lo","type":"quantitative","axis":{"orient":"right","offset":-9,"values":[-1.8,-2,-2.2,-2.4],"tickSize":-4,"labels":false,"title":null}}}},
   {"data":{"name":"aIns"},"mark":{"type":"point","shape":"M-1,0H1","filled":false,"color":"black","strokeWidth":1,"size":25,"opacity":1},
    "encoding":{"x":{"field":"day","type":"quantitative","axis":{"orient":"bottom","offset":-147,"values":[2.5,7.5,12.5,17.5],"tickSize":-2,"labels":false,"title":null}},
     "y":{"field":"hi","type":"quantitative","axis":{"orient":"left","offset":-99,"values":[-1.9,-2.1,-2.3,-2.5],"tickSize":-2,"labels":false,"title":null}}}},
   {"data":{"name":"aIns"},"mark":{"type":"square","size":28,"color":"black","opacity":1},
    "encoding":{"x":{"field":"day","type":"quantitative","axis":{"orient":"top","offset":-6,"values":[2.5,7.5,12.5,17.5],"tickSize":-2,"labels":false,"title":null}},
     "y":{"field":"v","type":"quantitative","axis":{"orient":"right","offset":-9,"values":[-1.9,-2.1,-2.3,-2.5],"tickSize":-2,"labels":false,"title":null}}}},
   {"data":{"name":"dv"},"transform":[{"filter":"datum.p==='a'"}],"mark":{"type":"text","align":"left","baseline":"middle","fontSize":12.5,"fontStyle":"italic"},
    "encoding":{"x":{"field":"x","type":"quantitative","axis":null},"y":{"field":"y","type":"quantitative","axis":null},"text":{"field":"a"}}},
   {"data":{"name":"dv"},"transform":[{"filter":"datum.p==='a'"}],"mark":{"type":"text","align":"left","baseline":"middle","fontSize":9.5,"dx":17,"dy":4},
    "encoding":{"x":{"field":"x","type":"quantitative","axis":null},"y":{"field":"y","type":"quantitative","axis":null},"text":{"field":"b"}}},
   {"data":{"name":"dv"},"transform":[{"filter":"datum.p==='a'"}],"mark":{"type":"text","align":"left","baseline":"middle","fontSize":12.5,"dx":43},
    "encoding":{"x":{"field":"x","type":"quantitative","axis":null},"y":{"field":"y","type":"quantitative","axis":null},"text":{"field":"c"}}},
   {"data":{"name":"vr"},"transform":[{"filter":"datum.p==='a'"}],"mark":{"type":"text","align":"left","baseline":"middle","fontSize":12.5,"fontStyle":"italic","angle":270},
    "encoding":{"x":{"field":"x","type":"quantitative","axis":null},"y":{"field":"y","type":"quantitative","axis":null},"text":{"field":"a"}}},
   {"data":{"name":"vr"},"transform":[{"filter":"datum.p==='a'"}],"mark":{"type":"text","align":"left","baseline":"middle","fontSize":9.5,"dx":8.5,"dy":4,"angle":270},
    "encoding":{"x":{"field":"x","type":"quantitative","axis":null},"y":{"field":"y","type":"quantitative","axis":null},"text":{"field":"b"}}},
   {"data":{"name":"vr"},"transform":[{"filter":"datum.p==='a'"}],"mark":{"type":"text","align":"left","baseline":"middle","fontSize":12.5,"dx":35,"angle":270},
    "encoding":{"x":{"field":"x","type":"quantitative","axis":null},"y":{"field":"y","type":"quantitative","axis":null},"text":{"field":"c"}}}
  ]
 }
 ]
},
{
 "width":268,"height":218,"title":{"text":"b"},
 "resolve":{"axis":{"x":"independent","y":"independent"}},
 "layer":[
  {"data":{"name":"bBand"},"mark":{"type":"area","color":"black","clip":true,"opacity":1},
   "encoding":{"x":{"field":"t","type":"quantitative","scale":{"domain":[25.56,37.4],"nice":false,"zero":false},"axis":{"orient":"bottom","values":[26,28,30,32,34,36],"format":"d","tickSize":-5,"labelPadding":9,"title":"Time (min)","titlePadding":8}},
    "y":{"field":"lo","type":"quantitative","scale":{"domain":[-110.5,8.3],"nice":false,"zero":false},"axis":{"orient":"left","values":[0,-50,-100],"format":"d","tickSize":-5,"labelPadding":9,"title":null}},
    "y2":{"field":"hi"},"detail":{"field":"g"}}},
  {"data":{"name":"bLine"},"mark":{"type":"line","color":"black","strokeWidth":1.1,"clip":true},
   "encoding":{"x":{"field":"t","type":"quantitative","axis":{"orient":"top","values":[26,28,30,32,34,36],"tickSize":-5,"labels":false,"title":null}},
    "y":{"field":"v","type":"quantitative","axis":{"orient":"right","values":[0,-50,-100],"tickSize":-5,"labels":false,"title":null}}}},
  {"data":{"name":"red"},"transform":[{"filter":"datum.p==='b'"}],"mark":{"type":"rule","color":"#e8202a","strokeWidth":1.3,"strokeDash":[6,4]},
   "encoding":{"x":{"field":"x","type":"quantitative","axis":null},"x2":{"field":"x2"},"y":{"field":"y","type":"quantitative","axis":null}}},
  {"data":{"name":"arr"},"transform":[{"filter":"datum.p==='b'"}],"mark":{"type":"rule","color":"black","strokeWidth":1},
   "encoding":{"x":{"field":"x","type":"quantitative","axis":{"orient":"bottom","values":[27,29,31,33,35,37],"tickSize":-2.5,"labels":false,"title":null}},"y":{"field":"y","type":"quantitative","axis":{"orient":"left","values":[-25,-75],"tickSize":-2.5,"labels":false,"title":null}},"x2":{"field":"x2"},"y2":{"field":"y2"}}},
  {"data":{"name":"arr"},"transform":[{"filter":"datum.p==='b'"}],"mark":{"type":"point","shape":"M0,-1L0.55,1L-0.55,1Z","filled":true,"color":"black","size":50,"opacity":1},
   "encoding":{"x":{"field":"x2","type":"quantitative","axis":{"orient":"top","values":[27,29,31,33,35,37],"tickSize":-2.5,"labels":false,"title":null}},"y":{"field":"y2","type":"quantitative","axis":{"orient":"right","values":[-25,-75],"tickSize":-2.5,"labels":false,"title":null}},"angle":{"field":"dir","type":"nominal","scale":{"domain":["u","d","ul","dr"],"range":[0,180,312,138]},"legend":null}}},
  {"data":{"name":"tl"},"transform":[{"filter":"datum.p==='b'"}],"mark":{"type":"text","align":"left","baseline":"middle","fontSize":12.5},
   "encoding":{"x":{"field":"x","type":"quantitative","axis":null},"y":{"field":"y","type":"quantitative","axis":null},"text":{"field":"t"}}},
  {"data":{"name":"tc"},"transform":[{"filter":"datum.p==='b'"}],"mark":{"type":"text","align":"center","baseline":"middle","fontSize":12.5},
   "encoding":{"x":{"field":"x","type":"quantitative","axis":null},"y":{"field":"y","type":"quantitative","axis":null},"text":{"field":"t"}}},
  {"data":{"name":"vh"},"transform":[{"filter":"datum.p==='b'"}],"mark":{"type":"text","align":"left","baseline":"middle","fontSize":12.5,"fontStyle":"italic"},
   "encoding":{"x":{"field":"x","type":"quantitative","axis":null},"y":{"field":"y","type":"quantitative","axis":null},"text":{"field":"a"}}},
  {"data":{"name":"vh"},"transform":[{"filter":"datum.p==='b'"}],"mark":{"type":"text","align":"left","baseline":"middle","fontSize":9.5,"dx":8,"dy":4},
   "encoding":{"x":{"field":"x","type":"quantitative","axis":null},"y":{"field":"y","type":"quantitative","axis":null},"text":{"field":"b"}}},
  {"data":{"name":"vh"},"transform":[{"filter":"datum.p==='b'"}],"mark":{"type":"text","align":"left","baseline":"middle","fontSize":12.5,"dx":18.5},
   "encoding":{"x":{"field":"x","type":"quantitative","axis":null},"y":{"field":"y","type":"quantitative","axis":null},"text":{"field":"c"}}},
  {"data":{"name":"ir"},"transform":[{"filter":"datum.p==='b'"}],"mark":{"type":"text","align":"left","baseline":"middle","fontSize":12.5,"fontStyle":"italic","angle":270},
   "encoding":{"x":{"field":"x","type":"quantitative","axis":null},"y":{"field":"y","type":"quantitative","axis":null},"text":{"field":"a"}}},
  {"data":{"name":"ir"},"transform":[{"filter":"datum.p==='b'"}],"mark":{"type":"text","align":"left","baseline":"middle","fontSize":9.5,"dx":4,"dy":4,"angle":270},
   "encoding":{"x":{"field":"x","type":"quantitative","axis":null},"y":{"field":"y","type":"quantitative","axis":null},"text":{"field":"b"}}},
  {"data":{"name":"ir"},"transform":[{"filter":"datum.p==='b'"}],"mark":{"type":"text","align":"left","baseline":"middle","fontSize":12.5,"dx":14.5,"angle":270},
   "encoding":{"x":{"field":"x","type":"quantitative","axis":null},"y":{"field":"y","type":"quantitative","axis":null},"text":{"field":"c"}}}
 ]
}
]},
{"spacing":30,"resolve":{"scale":{"color":"independent","shape":"independent","angle":"independent"}},"hconcat":[
{
 "width":270,"height":218,"title":{"text":"c"},
 "resolve":{"scale":{"x":"independent","y":"independent"}},
 "layer":[
 {
  "resolve":{"axis":{"x":"independent","y":"independent"},"legend":{"color":"independent","shape":"independent"}},
  "layer":[
   {"data":{"name":"cLoops"},"transform":[{"fold":["1 day","2 days","3 days","4 days","7 days","10 days","17 days"],"as":["s","v"]}],
    "mark":{"type":"line","strokeWidth":2.2,"interpolate":"monotone"},
    "encoding":{
     "x":{"field":"x","type":"quantitative","scale":{"domain":[-6,0],"nice":false,"zero":false},"axis":{"orient":"bottom","values":[-6,-5,-4,-3,-2,-1,0],"format":"d","tickSize":-5,"labelPadding":9,"title":null}},
     "y":{"field":"v","type":"quantitative","scale":{"domain":[-0.21,0],"reverse":true,"nice":false,"zero":false},"axis":{"orient":"left","values":[-0.2,-0.1,0],"format":".1~f","tickSize":-5,"labelPadding":9,"title":null}},
     "color":{"field":"s","type":"nominal","scale":{"domain":["1 day","2 days","3 days"," ","4 days","7 days","10 days","17 days"],"range":["#ee1c24","#2fd12f","#1a2bb5","transparent","#2fe6f2","#e62ee6","#f2ea1a","#7a7424"]},"legend":null},
     "detail":{"field":"d"}}},
   {"data":{"name":"cLoops"},"transform":[{"fold":["1 day","2 days","3 days","4 days","7 days","10 days","17 days"],"as":["s","v"]}],
    "mark":{"type":"point","filled":true,"size":16,"opacity":1},
    "encoding":{
     "x":{"field":"x","type":"quantitative","axis":{"orient":"top","values":[-6,-5,-4,-3,-2,-1,0],"tickSize":-5,"labels":false,"title":null}},
     "y":{"field":"v","type":"quantitative","axis":{"orient":"right","values":[-0.2,-0.1,0],"tickSize":-5,"labels":false,"title":null}},
     "color":{"field":"s","type":"nominal","legend":{"orient":"none","legendX":144,"legendY":102,"title":null,"columns":2,"columnPadding":5}},
     "shape":{"field":"s","type":"nominal","scale":{"domain":["1 day","2 days","3 days"," ","4 days","7 days","10 days","17 days"],"range":["circle","triangle-up","triangle-down","circle","diamond","triangle-left","triangle-right","circle"]},"legend":{"orient":"none","legendX":144,"legendY":102,"title":null,"columns":2,"columnPadding":5}}}},
   {"data":{"name":"arr"},"transform":[{"filter":"datum.p==='c'"}],"mark":{"type":"rule","color":"black","strokeWidth":1},
    "encoding":{"x":{"field":"x","type":"quantitative","axis":{"orient":"bottom","values":[-5.5,-4.5,-3.5,-2.5,-1.5,-0.5],"tickSize":-2.5,"labels":false,"title":null}},"y":{"field":"y","type":"quantitative","axis":{"orient":"left","values":[-0.175,-0.15,-0.125,-0.075,-0.05,-0.025],"tickSize":-2.5,"labels":false,"title":null}},"x2":{"field":"x2"},"y2":{"field":"y2"}}},
   {"data":{"name":"arr"},"transform":[{"filter":"datum.p==='c'"}],"mark":{"type":"point","shape":"M0,-1L0.55,1L-0.55,1Z","filled":true,"color":"black","size":50,"opacity":1},
    "encoding":{"x":{"field":"x2","type":"quantitative","axis":{"orient":"top","values":[-5.5,-4.5,-3.5,-2.5,-1.5,-0.5],"tickSize":-2.5,"labels":false,"title":null}},"y":{"field":"y2","type":"quantitative","axis":{"orient":"right","values":[-0.175,-0.15,-0.125,-0.075,-0.05,-0.025],"tickSize":-2.5,"labels":false,"title":null}},"angle":{"field":"dir","type":"nominal","scale":{"domain":["u","d","ul","dr"],"range":[0,180,311,140]},"legend":null}}},
   {"data":{"name":"tl"},"transform":[{"filter":"datum.p==='c'"}],"mark":{"type":"text","align":"left","baseline":"middle","fontSize":12.5},
    "encoding":{"x":{"field":"x","type":"quantitative","axis":null},"y":{"field":"y","type":"quantitative","axis":null},"text":{"field":"t"}}},
   {"data":{"name":"vh"},"transform":[{"filter":"datum.p==='c'"}],"mark":{"type":"text","align":"left","baseline":"middle","fontSize":12.5,"fontStyle":"italic"},
    "encoding":{"x":{"field":"x","type":"quantitative","axis":null},"y":{"field":"y","type":"quantitative","axis":null},"text":{"field":"a"}}},
   {"data":{"name":"vh"},"transform":[{"filter":"datum.p==='c'"}],"mark":{"type":"text","align":"left","baseline":"middle","fontSize":9.5,"dx":8,"dy":4},
    "encoding":{"x":{"field":"x","type":"quantitative","axis":null},"y":{"field":"y","type":"quantitative","axis":null},"text":{"field":"b"}}},
   {"data":{"name":"vh"},"transform":[{"filter":"datum.p==='c'"}],"mark":{"type":"text","align":"left","baseline":"middle","fontSize":12.5,"dx":18.5},
    "encoding":{"x":{"field":"x","type":"quantitative","axis":null},"y":{"field":"y","type":"quantitative","axis":null},"text":{"field":"c"}}},
   {"data":{"name":"ir"},"transform":[{"filter":"datum.p==='c'"}],"mark":{"type":"text","align":"left","baseline":"middle","fontSize":12.5,"fontStyle":"italic","angle":270},
    "encoding":{"x":{"field":"x","type":"quantitative","axis":null},"y":{"field":"y","type":"quantitative","axis":null},"text":{"field":"a"}}},
   {"data":{"name":"ir"},"transform":[{"filter":"datum.p==='c'"}],"mark":{"type":"text","align":"left","baseline":"middle","fontSize":9.5,"dx":4,"dy":4,"angle":270},
    "encoding":{"x":{"field":"x","type":"quantitative","axis":null},"y":{"field":"y","type":"quantitative","axis":null},"text":{"field":"b"}}},
   {"data":{"name":"ir"},"transform":[{"filter":"datum.p==='c'"}],"mark":{"type":"text","align":"left","baseline":"middle","fontSize":12.5,"dx":14.5,"angle":270},
    "encoding":{"x":{"field":"x","type":"quantitative","axis":null},"y":{"field":"y","type":"quantitative","axis":null},"text":{"field":"c"}}}
  ]
 },
 {
  "resolve":{"axis":{"x":"independent","y":"independent"}},
  "layer":[
   {"data":{"values":[{}]},"mark":{"type":"rect","fill":"white","stroke":"black","strokeWidth":1},
    "encoding":{"x":{"datum":0,"type":"quantitative","scale":{"domain":[0,20],"range":[98,260],"nice":false,"zero":false},"axis":null},"x2":{"datum":20},"y":{"datum":-2.66,"type":"quantitative","scale":{"domain":[-2.66,-1.84],"range":[70,2],"nice":false,"zero":false},"axis":null},"y2":{"datum":-1.84}}},
   {"data":{"name":"cFit"},"mark":{"type":"line","color":"#e8202a","strokeWidth":1.2},
    "encoding":{"x":{"field":"day","type":"quantitative","axis":null},"y":{"field":"v","type":"quantitative","axis":null}}},
   {"data":{"name":"cIns"},"mark":{"type":"rule","color":"black","strokeWidth":1},
    "encoding":{"x":{"field":"day","type":"quantitative","axis":{"orient":"bottom","offset":-148,"values":[0,5,10,15,20],"tickSize":-4,"labelPadding":7,"labelFontSize":12.5,"title":"Days","titlePadding":1,"titleFontSize":12.5}},
     "y":{"field":"lo","type":"quantitative","axis":{"orient":"left","offset":-98,"values":[-2,-2.2,-2.4,-2.6],"format":".1f","tickSize":-4,"labelPadding":7,"labelFontSize":12.5,"title":null}},"y2":{"field":"hi"}}},
   {"data":{"name":"cIns"},"mark":{"type":"point","shape":"M-1,0H1","filled":false,"color":"black","strokeWidth":1,"size":25,"opacity":1},
    "encoding":{"x":{"field":"day","type":"quantitative","axis":{"orient":"top","offset":-2,"values":[0,5,10,15,20],"tickSize":-4,"labels":false,"title":null}},
     "y":{"field":"lo","type":"quantitative","axis":{"orient":"right","offset":-10,"values":[-2,-2.2,-2.4,-2.6],"tickSize":-4,"labels":false,"title":null}}}},
   {"data":{"name":"cIns"},"mark":{"type":"point","shape":"M-1,0H1","filled":false,"color":"black","strokeWidth":1,"size":25,"opacity":1},
    "encoding":{"x":{"field":"day","type":"quantitative","axis":{"orient":"bottom","offset":-148,"values":[2.5,7.5,12.5,17.5],"tickSize":-2,"labels":false,"title":null}},
     "y":{"field":"hi","type":"quantitative","axis":{"orient":"left","offset":-98,"values":[-1.9,-2.1,-2.3,-2.5],"tickSize":-2,"labels":false,"title":null}}}},
   {"data":{"name":"cIns"},"mark":{"type":"square","size":28,"color":"black","opacity":1},
    "encoding":{"x":{"field":"day","type":"quantitative","axis":{"orient":"top","offset":-2,"values":[2.5,7.5,12.5,17.5],"tickSize":-2,"labels":false,"title":null}},
     "y":{"field":"v","type":"quantitative","axis":{"orient":"right","offset":-10,"values":[-1.9,-2.1,-2.3,-2.5],"tickSize":-2,"labels":false,"title":null}}}},
   {"data":{"name":"dv"},"transform":[{"filter":"datum.p==='c'"}],"mark":{"type":"text","align":"left","baseline":"middle","fontSize":12.5,"fontStyle":"italic"},
    "encoding":{"x":{"field":"x","type":"quantitative","axis":null},"y":{"field":"y","type":"quantitative","axis":null},"text":{"field":"a"}}},
   {"data":{"name":"dv"},"transform":[{"filter":"datum.p==='c'"}],"mark":{"type":"text","align":"left","baseline":"middle","fontSize":9.5,"dx":17,"dy":4},
    "encoding":{"x":{"field":"x","type":"quantitative","axis":null},"y":{"field":"y","type":"quantitative","axis":null},"text":{"field":"b"}}},
   {"data":{"name":"dv"},"transform":[{"filter":"datum.p==='c'"}],"mark":{"type":"text","align":"left","baseline":"middle","fontSize":12.5,"dx":43},
    "encoding":{"x":{"field":"x","type":"quantitative","axis":null},"y":{"field":"y","type":"quantitative","axis":null},"text":{"field":"c"}}},
   {"data":{"name":"vr"},"transform":[{"filter":"datum.p==='c'"}],"mark":{"type":"text","align":"left","baseline":"middle","fontSize":12.5,"fontStyle":"italic","angle":270},
    "encoding":{"x":{"field":"x","type":"quantitative","axis":null},"y":{"field":"y","type":"quantitative","axis":null},"text":{"field":"a"}}},
   {"data":{"name":"vr"},"transform":[{"filter":"datum.p==='c'"}],"mark":{"type":"text","align":"left","baseline":"middle","fontSize":9.5,"dx":8.5,"dy":4,"angle":270},
    "encoding":{"x":{"field":"x","type":"quantitative","axis":null},"y":{"field":"y","type":"quantitative","axis":null},"text":{"field":"b"}}},
   {"data":{"name":"vr"},"transform":[{"filter":"datum.p==='c'"}],"mark":{"type":"text","align":"left","baseline":"middle","fontSize":12.5,"dx":35,"angle":270},
    "encoding":{"x":{"field":"x","type":"quantitative","axis":null},"y":{"field":"y","type":"quantitative","axis":null},"text":{"field":"c"}}}
  ]
 }
 ]
},
{
 "width":270,"height":218,"title":{"text":"d"},
 "resolve":{"axis":{"x":"independent","y":"independent"}},
 "layer":[
  {"data":{"name":"dLine"},"mark":{"type":"line","color":"black","strokeWidth":1.1,"clip":true},
   "encoding":{"x":{"field":"t","type":"quantitative","scale":{"domain":[49.27,107.3],"nice":false,"zero":false},"axis":{"orient":"bottom","values":[50,60,70,80,90,100],"format":"d","tickSize":-5,"labelPadding":9,"title":"Time (min)","titlePadding":8}},
    "y":{"field":"v","type":"quantitative","scale":{"domain":[-35,0.7],"nice":false,"zero":false},"axis":{"orient":"left","values":[0,-10,-20,-30],"format":"d","tickSize":-5,"labelPadding":9,"title":null}}}},
  {"data":{"name":"red"},"transform":[{"filter":"datum.p==='d'"}],"mark":{"type":"rule","color":"#e8202a","strokeWidth":1.3,"strokeDash":[6,4]},
   "encoding":{"x":{"field":"x","type":"quantitative","axis":{"orient":"top","values":[50,60,70,80,90,100],"tickSize":-5,"labels":false,"title":null}},"x2":{"field":"x2"},"y":{"field":"y","type":"quantitative","axis":{"orient":"right","values":[0,-10,-20,-30],"tickSize":-5,"labels":false,"title":null}}}},
  {"data":{"name":"arr"},"transform":[{"filter":"datum.p==='d'"}],"mark":{"type":"rule","color":"black","strokeWidth":1},
   "encoding":{"x":{"field":"x","type":"quantitative","axis":{"orient":"bottom","values":[52,54,56,58,62,64,66,68,72,74,76,78,82,84,86,88,92,94,96,98,102,104,106],"tickSize":-2.5,"labels":false,"title":null}},"y":{"field":"y","type":"quantitative","axis":{"orient":"left","values":[-2,-4,-6,-8,-12,-14,-16,-18,-22,-24,-26,-28,-32,-34],"tickSize":-2.5,"labels":false,"title":null}},"x2":{"field":"x2"},"y2":{"field":"y2"}}},
  {"data":{"name":"arr"},"transform":[{"filter":"datum.p==='d'"}],"mark":{"type":"point","shape":"M0,-1L0.55,1L-0.55,1Z","filled":true,"color":"black","size":50,"opacity":1},
   "encoding":{"x":{"field":"x2","type":"quantitative","axis":{"orient":"top","values":[52,54,56,58,62,64,66,68,72,74,76,78,82,84,86,88,92,94,96,98,102,104,106],"tickSize":-2.5,"labels":false,"title":null}},"y":{"field":"y2","type":"quantitative","axis":{"orient":"right","values":[-2,-4,-6,-8,-12,-14,-16,-18,-22,-24,-26,-28,-32,-34],"tickSize":-2.5,"labels":false,"title":null}},"angle":{"field":"dir","type":"nominal","scale":{"domain":["u","d","ul","dr"],"range":[0,180,312,138]},"legend":null}}},
  {"data":{"name":"tl"},"transform":[{"filter":"datum.p==='d'"}],"mark":{"type":"text","align":"left","baseline":"middle","fontSize":12.5},
   "encoding":{"x":{"field":"x","type":"quantitative","axis":null},"y":{"field":"y","type":"quantitative","axis":null},"text":{"field":"t"}}},
  {"data":{"name":"tc"},"transform":[{"filter":"datum.p==='d'"}],"mark":{"type":"text","align":"center","baseline":"middle","fontSize":12.5},
   "encoding":{"x":{"field":"x","type":"quantitative","axis":null},"y":{"field":"y","type":"quantitative","axis":null},"text":{"field":"t"}}},
  {"data":{"name":"vh"},"transform":[{"filter":"datum.p==='d'"}],"mark":{"type":"text","align":"left","baseline":"middle","fontSize":12.5,"fontStyle":"italic"},
   "encoding":{"x":{"field":"x","type":"quantitative","axis":null},"y":{"field":"y","type":"quantitative","axis":null},"text":{"field":"a"}}},
  {"data":{"name":"vh"},"transform":[{"filter":"datum.p==='d'"}],"mark":{"type":"text","align":"left","baseline":"middle","fontSize":9.5,"dx":8,"dy":4},
   "encoding":{"x":{"field":"x","type":"quantitative","axis":null},"y":{"field":"y","type":"quantitative","axis":null},"text":{"field":"b"}}},
  {"data":{"name":"vh"},"transform":[{"filter":"datum.p==='d'"}],"mark":{"type":"text","align":"left","baseline":"middle","fontSize":12.5,"dx":18.5},
   "encoding":{"x":{"field":"x","type":"quantitative","axis":null},"y":{"field":"y","type":"quantitative","axis":null},"text":{"field":"c"}}},
  {"data":{"name":"ir"},"transform":[{"filter":"datum.p==='d'"}],"mark":{"type":"text","align":"left","baseline":"middle","fontSize":12.5,"fontStyle":"italic","angle":270},
   "encoding":{"x":{"field":"x","type":"quantitative","axis":null},"y":{"field":"y","type":"quantitative","axis":null},"text":{"field":"a"}}},
  {"data":{"name":"ir"},"transform":[{"filter":"datum.p==='d'"}],"mark":{"type":"text","align":"left","baseline":"middle","fontSize":9.5,"dx":4,"dy":4,"angle":270},
   "encoding":{"x":{"field":"x","type":"quantitative","axis":null},"y":{"field":"y","type":"quantitative","axis":null},"text":{"field":"b"}}},
  {"data":{"name":"ir"},"transform":[{"filter":"datum.p==='d'"}],"mark":{"type":"text","align":"left","baseline":"middle","fontSize":12.5,"dx":14.5,"angle":270},
   "encoding":{"x":{"field":"x","type":"quantitative","axis":null},"y":{"field":"y","type":"quantitative","axis":null},"text":{"field":"c"}}}
 ]
}
]}
]
}
